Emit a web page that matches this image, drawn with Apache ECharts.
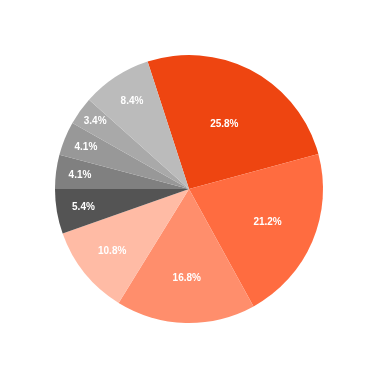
<!DOCTYPE html>
<html>
<head>
<meta charset="utf-8">
<script src="https://cdn.jsdelivr.net/npm/echarts@6/dist/echarts.min.js"></script>
<style>
html,body{margin:0;padding:0;background:#fff;}
#main{width:378px;height:378px;}
</style>
</head>
<body>
<div id="main"></div>
<script>
// 数据
var names = ['A', 'B', 'C', 'D', 'E', 'F', 'G', 'H', 'I'];
var values = [25.8, 21.2, 16.8, 10.8, 5.4, 4.1, 4.1, 3.4, 8.4];
var colors = ['#ee4511', '#ff6c40', '#ff8e6c', '#ffbba5', '#545454', '#808080', '#989898', '#a9a9a9', '#bbbbbb'];

// 标签离圆心的距离(占半径的比例)
var labelPos = [0.53, 0.61, 0.64, 0.705, 0.765, 0.785, 0.795, 0.825, 0.745];
var cx = 189, cy = 189, R = 134;

var data = [];
for (var i = 0; i < values.length; i++) {
    data.push({ value: values[i], name: names[i], itemStyle: { color: colors[i] } });
}

var myChart = echarts.init(document.getElementById('main'));
myChart.setOption({
    animation: false,
    series: [{
        type: 'pie',
        center: [cx, cy],
        radius: [0, R],
        startAngle: 108,
        clockwise: true,
        avoidLabelOverlap: false,
        label: {
            show: true,
            position: 'inside',
            formatter: function (p) { return p.value.toFixed(1) + '%'; },
            color: '#fff',
            fontFamily: 'Liberation Sans',
            fontWeight: 'bold',
            fontSize: 10
        },
        labelLine: { show: false },
        labelLayout: function (p) {
            // 默认在半径一半处, 沿径向挪到目标位置
            var lx = p.labelRect.x + p.labelRect.width / 2;
            var ly = p.labelRect.y + p.labelRect.height / 2;
            var k = labelPos[p.dataIndex] / 0.5 - 1;
            return { dx: (lx - cx) * k, dy: (ly - cy) * k };
        },
        data: data
    }]
});
</script>
</body>
</html>
